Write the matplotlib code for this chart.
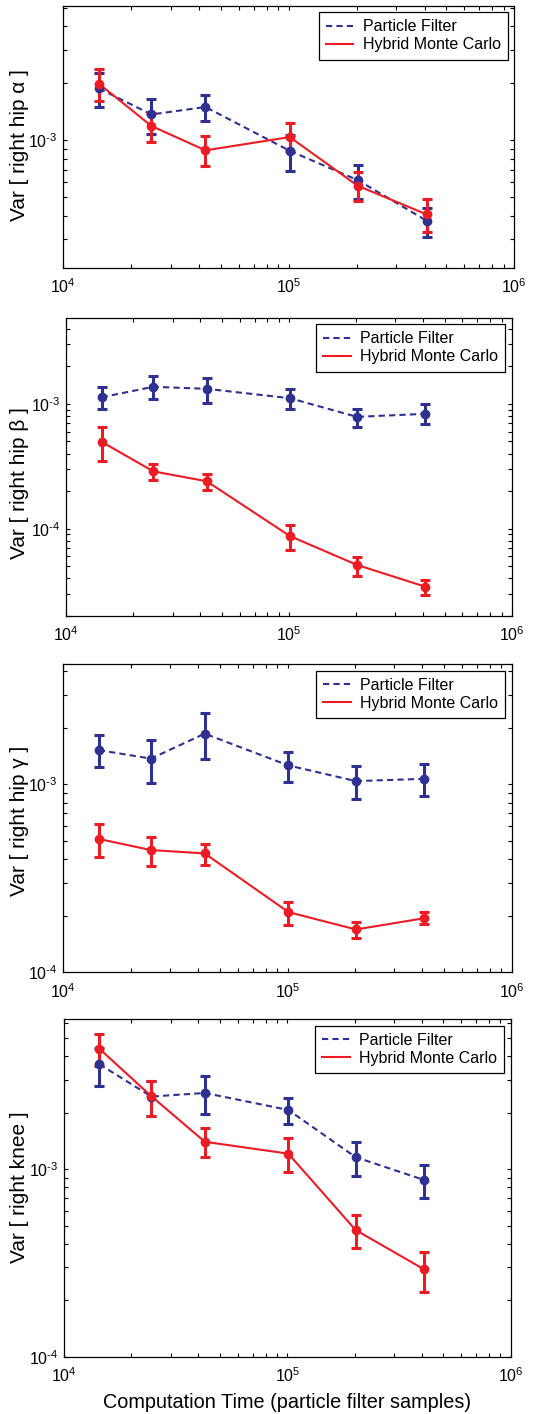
import numpy as np
import matplotlib
matplotlib.use("Agg")
import matplotlib.pyplot as plt
from matplotlib.ticker import LogLocator, FuncFormatter, NullFormatter

plt.rcParams['font.family'] = ['Liberation Sans', 'DejaVu Sans']
plt.rcParams['mathtext.fontset'] = 'custom'
plt.rcParams['mathtext.rm'] = 'Liberation Sans'
plt.rcParams['mathtext.it'] = 'Liberation Sans:italic'
plt.rcParams['mathtext.bf'] = 'Liberation Sans:bold'

# sample counts (x axis)
samples = [14400, 24600, 42700, 101000, 202000, 408000]

# variance estimates: centre, lower bound, upper bound
pf_alpha = [1.88e-3, 1.37e-3, 1.50e-3, 8.8e-4, 6.16e-4, 3.76e-4]
pf_alpha_lo = [1.50e-3, 1.08e-3, 1.27e-3, 6.9e-4, 4.87e-4, 3.09e-4]
pf_alpha_hi = [2.28e-3, 1.65e-3, 1.74e-3, 1.07e-3, 7.4e-4, 4.37e-4]
hmc_alpha = [1.99e-3, 1.19e-3, 8.85e-4, 1.04e-3, 5.75e-4, 4.06e-4]
hmc_alpha_lo = [1.61e-3, 9.8e-4, 7.31e-4, 8.78e-4, 4.79e-4, 3.26e-4]
hmc_alpha_hi = [2.38e-3, 1.39e-3, 1.05e-3, 1.23e-3, 6.77e-4, 4.87e-4]

pf_beta = [1.13e-3, 1.37e-3, 1.32e-3, 1.11e-3, 7.87e-4, 8.32e-4]
pf_beta_lo = [9.07e-4, 1.09e-3, 1.01e-3, 9.07e-4, 6.52e-4, 6.89e-4]
pf_beta_hi = [1.36e-3, 1.66e-3, 1.62e-3, 1.31e-3, 9.12e-4, 9.95e-4]
hmc_beta = [4.97e-4, 2.88e-4, 2.40e-4, 8.73e-5, 5.13e-5, 3.44e-5]
hmc_beta_lo = [3.47e-4, 2.44e-4, 2.03e-4, 6.79e-5, 4.17e-5, 2.92e-5]
hmc_beta_hi = [6.55e-4, 3.30e-4, 2.76e-4, 1.08e-4, 5.94e-5, 3.89e-5]

pf_gamma = [1.52e-3, 1.37e-3, 1.86e-3, 1.26e-3, 1.04e-3, 1.07e-3]
pf_gamma_lo = [1.24e-3, 1.02e-3, 1.36e-3, 1.03e-3, 8.38e-4, 8.63e-4]
pf_gamma_hi = [1.82e-3, 1.72e-3, 2.39e-3, 1.48e-3, 1.25e-3, 1.28e-3]
hmc_gamma = [5.12e-4, 4.47e-4, 4.29e-4, 2.09e-4, 1.69e-4, 1.94e-4]
hmc_gamma_lo = [4.12e-4, 3.68e-4, 3.74e-4, 1.79e-4, 1.53e-4, 1.80e-4]
hmc_gamma_hi = [6.15e-4, 5.22e-4, 4.81e-4, 2.36e-4, 1.86e-4, 2.09e-4]

pf_knee = [3.63e-3, 2.44e-3, 2.55e-3, 2.07e-3, 1.16e-3, 8.77e-4]
pf_knee_lo = [2.79e-3, 1.91e-3, 1.98e-3, 1.75e-3, 9.17e-4, 7.06e-4]
pf_knee_hi = [4.42e-3, 2.97e-3, 3.15e-3, 2.39e-3, 1.39e-3, 1.05e-3]
hmc_knee = [4.39e-3, 2.45e-3, 1.40e-3, 1.21e-3, 4.74e-4, 2.93e-4]
hmc_knee_lo = [3.53e-3, 1.93e-3, 1.16e-3, 9.64e-4, 3.79e-4, 2.22e-4]
hmc_knee_hi = [5.27e-3, 2.96e-3, 1.66e-3, 1.47e-3, 5.68e-4, 3.61e-4]

ylabels = ["Var [ right hip α ]", "Var [ right hip β ]",
           "Var [ right hip γ ]", "Var [ right knee ]"]
ylims = [(2.12e-4, 5.15e-3), (2.0e-5, 4.9e-3), (1e-4, 4.35e-3), (1e-4, 6.3e-3)]

BLUE = '#2E3192'
RED = '#ED1C24'

W, H = 558, 1414
fig = plt.figure(figsize=(W / 100, H / 100), dpi=100)

# axes boxes in pixels: left, top, right, bottom
boxes = [(63.3, 5.7, 514.3, 267.7),
         (66.3, 317.7, 511.7, 616.0),
         (63.3, 664.3, 511.7, 972.3),
         (64.0, 1019.3, 510.7, 1356.7)]
# vertical centre of each y label, in pixels
label_mid = [145.5, 483.0, 820.8, 1187.5]

panels = [
    (pf_alpha, pf_alpha_lo, pf_alpha_hi, hmc_alpha, hmc_alpha_lo, hmc_alpha_hi),
    (pf_beta, pf_beta_lo, pf_beta_hi, hmc_beta, hmc_beta_lo, hmc_beta_hi),
    (pf_gamma, pf_gamma_lo, pf_gamma_hi, hmc_gamma, hmc_gamma_lo, hmc_gamma_hi),
    (pf_knee, pf_knee_lo, pf_knee_hi, hmc_knee, hmc_knee_lo, hmc_knee_hi),
]


def pow10(v, pos):
    # 10^n with a short hyphen in the exponent
    e = int(round(np.log10(v)))
    s = str(abs(e))
    if e < 0:
        s = r'\text{-}' + s
    return r'$\mathregular{10^{%s}}$' % s


def draw_series(ax, y, lo, hi, color, ls, label):
    y = np.array(y)
    err = [y - np.array(lo), np.array(hi) - y]
    ax.errorbar(samples, y, yerr=err, fmt='o', color=color, ms=6,
                elinewidth=2.2, capsize=3.4, capthick=2.2, zorder=3)
    line, = ax.plot(samples, y, color=color, lw=1.5, ls=ls, label=label, zorder=3)
    if ls == '--':
        line.set_dashes((3, 2))
    return line


for i, (box, data) in enumerate(zip(boxes, panels)):
    l, t, r, b = box
    ax = fig.add_axes([l / W, 1 - b / H, (r - l) / W, (b - t) / H])
    ax.set_xscale('log')
    ax.set_yscale('log')

    pf, pf_lo, pf_hi, hmc, hmc_lo, hmc_hi = data
    draw_series(ax, pf, pf_lo, pf_hi, BLUE, '--', 'Particle Filter')
    draw_series(ax, hmc, hmc_lo, hmc_hi, RED, '-', 'Hybrid Monte Carlo')

    ax.set_xlim(1e4, 1e6)
    ax.set_ylim(*ylims[i])

    for a in (ax.xaxis, ax.yaxis):
        a.set_major_locator(LogLocator(base=10, numticks=10))
        a.set_major_formatter(FuncFormatter(pow10))
        a.set_minor_locator(LogLocator(base=10, subs=np.arange(2, 10), numticks=20))
        a.set_minor_formatter(NullFormatter())
    ax.tick_params(which='both', direction='in', top=True, right=True,
                   length=3.2, width=0.8, labelsize=11.5)
    ax.tick_params(axis='x', pad=7)
    ax.tick_params(axis='y', pad=4)
    for s in ax.spines.values():
        s.set_linewidth(0.9)

    ax.set_ylabel(ylabels[i], fontsize=15)
    ax.yaxis.set_label_coords((29 - l) / (r - l), (b - label_mid[i]) / (b - t))

    leg = ax.legend(loc='upper right', fontsize=11.5, frameon=True, fancybox=False,
                    handlelength=1.7, handletextpad=0.6, borderpad=0.45,
                    labelspacing=0.2, borderaxespad=0.4)
    leg.get_frame().set_edgecolor('black')
    leg.get_frame().set_linewidth(0.9)
    leg.get_frame().set_alpha(1)

    if i == 3:
        ax.set_xlabel("Computation Time (particle filter samples)", fontsize=14.3, labelpad=6)

fig.savefig("out.png", dpi=100)
